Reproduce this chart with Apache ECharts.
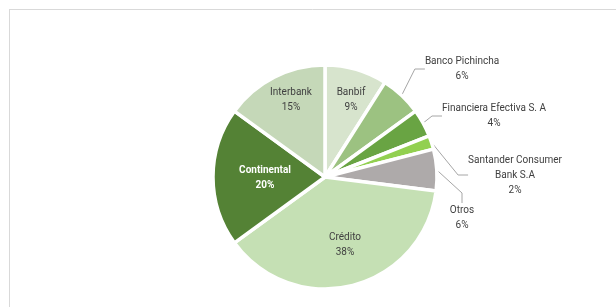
<!DOCTYPE html>
<html>
<head>
<meta charset="utf-8">
<script src="https://cdn.jsdelivr.net/npm/echarts@6/dist/echarts.min.js"></script>
<style>
  html, body { margin: 0; padding: 0; background: #fff; }
  #main { width: 616px; height: 307px; }
</style>
</head>
<body>
<div id="main"></div>
<script>
var chartDom = document.getElementById('main');
var myChart = echarts.init(chartDom);

// clockwise from 12 o'clock
const names = ['Banbif', 'Banco Pichincha', 'Financiera Efectiva S. A', 'Santander Consumer\nBank S.A', 'Otros', 'Crédito', 'Continental', 'Interbank'];
const shares = [9, 6, 4, 2, 6, 38, 20, 15];
const colors = ['#d7e4cd', '#9cc281', '#69a443', '#92d050', '#aeaaaa', '#c5e0b4', '#548235', '#c5d8b8'];
const outside = [false, true, true, true, true, false, false, false];

const font = "'Roboto', sans-serif";

// where each label's text block is centred
var labelSpots = {
  'Banbif': [351, 100],
  'Banco Pichincha': [462, 69],
  'Financiera Efectiva S. A': [494, 116],
  'Santander Consumer\nBank S.A': [515, 175],
  'Otros': [462, 218],
  'Crédito': [345, 245],
  'Continental': [265, 178],
  'Interbank': [291, 100]
};

var data = names.map(function (n, i) {
  var item = {
    name: n,
    value: shares[i],
    itemStyle: { color: colors[i] }
  };
  if (outside[i]) {
    item.label = { position: 'outside' };
    item.labelLine = { show: true };
  } else {
    item.label = { position: 'inside' };
    item.labelLine = { show: false };
  }
  if (n === 'Continental') {
    item.label.color = '#fff';
    item.label.fontWeight = 'bold';
  }
  return item;
});

var option = {
  animation: false,
  backgroundColor: '#fff',
  graphic: [
    { type: 'line', shape: { x1: 9, y1: 9.5, x2: 616, y2: 9.5 }, style: { stroke: '#d9d9d9', lineWidth: 1 } },
    { type: 'line', shape: { x1: 9.5, y1: 9, x2: 9.5, y2: 307 }, style: { stroke: '#d9d9d9', lineWidth: 1 } }
  ],
  series: [
    {
      type: 'pie',
      center: [325, 177],
      radius: 112,
      startAngle: 90,
      clockwise: true,
      avoidLabelOverlap: false,
      itemStyle: { borderColor: '#fff', borderWidth: 3.5 },
      emphasis: { disabled: true },
      label: {
        formatter: function (p) { return p.name + '\n' + p.value + '%'; },
        fontFamily: font,
        fontSize: 10,
        lineHeight: 15,
        color: '#404040',
        align: 'center'
      },
      labelLine: {
        length: 12,
        length2: 10,
        lineStyle: { color: '#a6a6a6', width: 1 }
      },
      labelLayout: function (p) {
        var name = names[p.dataIndex];
        var s = labelSpots[name];
        return {
          x: s[0],
          y: s[1],
          align: 'center',
          verticalAlign: 'middle',
          hideOverlap: false
        };
      },
      data: data
    }
  ]
};

myChart.setOption(option);
</script>
</body>
</html>
